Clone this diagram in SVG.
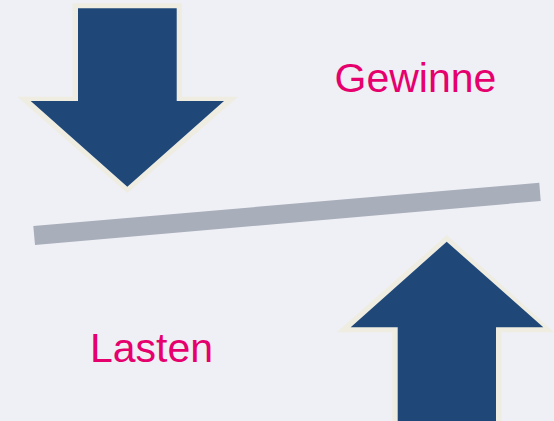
<svg xmlns="http://www.w3.org/2000/svg" width="554" height="421" viewBox="0 0 554 421">
  <style>
    .edge { fill: #efece1; }
    .body { fill: #1f4879; }
    .bar { fill: #a9aebb; }
    .label { font-family: "Liberation Sans", Arial, sans-serif; font-size: 41px; fill: #e6006e; }
  </style>
  <rect width="554" height="421" fill="#eff0f5"/>

  <g id="connectors">
    <!-- tilted balance beam -->
    <polygon class="bar" points="33.3,226 539.3,182.7 540.7,201 35,245"/>
  </g>

  <g id="arrow-down">
    <polygon class="edge" points="72.7,3.3 182,3.3 182,96.7 238,96.7 127.3,193 17.3,96.7 72.7,96.7"/>
    <polygon class="body" points="78,8.3 176.7,8.3 176.7,101 224,101 127.3,186.7 30.7,101 78,101"/>
  </g>

  <g id="arrow-up">
    <polygon class="edge" points="446.7,235 554,332.3 501.3,332.3 501.3,421 392.3,421 392.3,332.3 336.7,332.3"/>
    <polygon class="body" points="446.7,241.7 543.3,327.3 496,327.3 496,421 397.7,421 397.7,327.3 350.7,327.3"/>
  </g>

  <g id="label-gewinne">
    <text class="label" x="334.5" y="91.7">Gewinne</text>
  </g>

  <g id="label-lasten">
    <text class="label" x="90" y="361.7">Lasten</text>
  </g>
</svg>
